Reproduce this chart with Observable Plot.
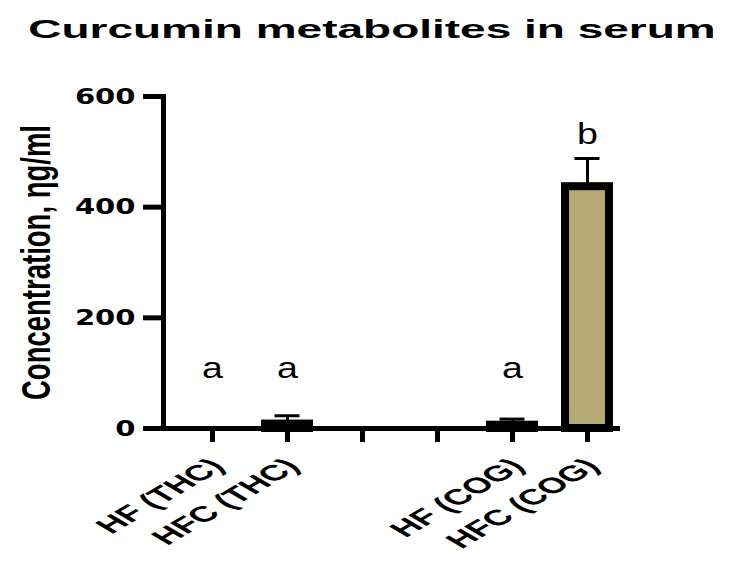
<!DOCTYPE html>
<html>
<head>
<meta charset="utf-8">
<script src="https://cdn.jsdelivr.net/npm/d3@7"></script>
<script src="https://cdn.jsdelivr.net/npm/@observablehq/plot@0.6"></script>
<style>
  html, body { margin: 0; padding: 0; background: white; }
</style>
</head>
<body>
<div id="chart"></div>
<script>
const title = "Curcumin metabolites in serum";
const yTitle = "Concentration, ηg/ml";
const categories = ["HF (THC)", "HFC (THC)", " ", "  ", "HF (COG)", "HFC (COG)"];
const means = [0, 8, null, null, 6, 437];
const errors = [0, 15, null, null, 11, 51];
const letters = ["a", "a", null, null, "a", "b"];
const letterValues = [108, 108, null, null, 108, 531];
const yTicks = [0, 200, 400, 600];

const data = categories.map((c, i) => ({
  cat: c, mean: means[i], err: errors[i], top: means[i] == null ? null : means[i] + errors[i],
  letter: letters[i], ly: letterValues[i]
}));
const bars = data.filter(d => d.mean > 0);

const chart = Plot.plot({
  width: 730,
  height: 570,
  marginTop: 96,
  marginBottom: 142,
  marginLeft: 163,
  marginRight: 110,
  style: { fontFamily: "'Liberation Sans', Arial, sans-serif", color: "black", background: "white", overflow: "visible" },
  x: { type: "band", domain: categories, range: [163, 636], paddingInner: 0.418, paddingOuter: 0.336, axis: null },
  y: { domain: [0, 600], axis: null },
  marks: [
    Plot.ruleX(bars, { x: "cat", y1: "mean", y2: "top", stroke: "black", strokeWidth: 3 }),
    Plot.tickY(bars, { x: "cat", y: "top", stroke: "black", strokeWidth: 3, insetLeft: 9.5, insetRight: 9.5 }),
    Plot.barY(bars, { x: "cat", y: "mean", fill: "#b5a974", stroke: "black", strokeWidth: 8 }),
    Plot.axisY({ ticks: yTicks, tickSize: 20, tickPadding: 8, strokeWidth: 5, fontSize: 22, fontWeight: "bold", fontFamily: "'DejaVu Sans', sans-serif", label: null }),
    Plot.axisX({ tickSize: 14, strokeWidth: 5, tickFormat: () => "", label: null }),
    Plot.axisX({ tickSize: 0, tickPadding: 18, tickRotate: -45, fontSize: 22, fontWeight: "bold", label: null, dx: 5, dy: 16 }),
    Plot.ruleY([0], { stroke: "black", strokeWidth: 5 }),
    Plot.frame({ anchor: "left", stroke: "black", strokeWidth: 5 }),
    Plot.text(data.filter(d => d.letter), { x: "cat", y: "ly", text: "letter", fontSize: 30 }),
    Plot.text([title], { frameAnchor: "top", dx: -20, dy: -76, fontSize: 25, fontWeight: "bold" }),
    Plot.text([yTitle], { frameAnchor: "left", textAnchor: "middle", rotate: -90, dx: -126, fontSize: 27.5, fontWeight: "bold" })
  ]
});
document.getElementById("chart").appendChild(chart);

function stretch(sel, k) {
  sel.each(function () {
    const t = this.getAttribute("transform");
    if (t && t.includes("translate")) {
      this.setAttribute("transform", t.replace(/translate\([^)]*\)/, m => `${m} scale(${k},1)`));
    } else {
      const x = +this.getAttribute("x") || 0, y = +this.getAttribute("y") || 0;
      this.removeAttribute("x"); this.removeAttribute("y");
      this.setAttribute("transform", `translate(${x},${y}) scale(${k},1)` + (t ? " " + t : ""));
    }
  });
}
const svg = d3.select(chart);
stretch(svg.selectAll('g[aria-label="y-axis tick label"] text'), 1.32);
stretch(svg.selectAll('g[aria-label="x-axis tick label"] text'), 1.7);
stretch(svg.selectAll('g[font-size="30"] text'), 1.25);
stretch(svg.selectAll('g[font-size="25"] text'), 1.84);
stretch(svg.selectAll('g[font-size="27.5"] text'), 1.45);
</script>
</body>
</html>
